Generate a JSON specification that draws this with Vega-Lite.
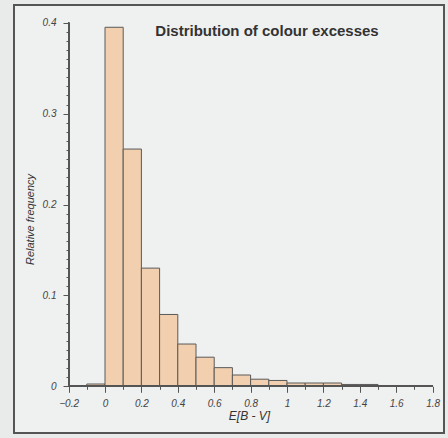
{
  "$schema": "https://vega.github.io/schema/vega-lite/v6.json",
  "width": 430,
  "height": 428,
  "autosize": {"type": "none"},
  "padding": {"left": 14, "top": 5, "right": 4, "bottom": 5},
  "background": "#e9ebeb",
  "config": {
    "view": {"stroke": "#555555", "strokeWidth": 2, "fill": "#eff0f0"},
    "axis": {
      "labelFont": "Liberation Sans",
      "labelFontStyle": "italic",
      "labelFontSize": 10,
      "labelColor": "#444444",
      "tickColor": "#555555",
      "grid": false,
      "domain": false,
      "titleFont": "Liberation Sans",
      "titleFontStyle": "italic",
      "titleFontWeight": "normal",
      "titleFontSize": 11,
      "titleColor": "#333333"
    }
  },
  "title": {
    "text": "Distribution of colour excesses",
    "font": "Liberation Sans",
    "fontSize": 15,
    "fontWeight": "bold",
    "color": "#333333",
    "anchor": "middle",
    "frame": "group",
    "offset": -34,
    "dx": 38
  },
  "data": {
    "values": [
      {"lo": -0.1, "hi": 0.0, "freq": 0.0025},
      {"lo": 0.0, "hi": 0.1, "freq": 0.395},
      {"lo": 0.1, "hi": 0.2, "freq": 0.261},
      {"lo": 0.2, "hi": 0.3, "freq": 0.130},
      {"lo": 0.3, "hi": 0.4, "freq": 0.079},
      {"lo": 0.4, "hi": 0.5, "freq": 0.0465},
      {"lo": 0.5, "hi": 0.6, "freq": 0.032},
      {"lo": 0.6, "hi": 0.7, "freq": 0.0205},
      {"lo": 0.7, "hi": 0.8, "freq": 0.0124},
      {"lo": 0.8, "hi": 0.9, "freq": 0.0078},
      {"lo": 0.9, "hi": 1.0, "freq": 0.0064},
      {"lo": 1.0, "hi": 1.1, "freq": 0.0036},
      {"lo": 1.1, "hi": 1.2, "freq": 0.0036},
      {"lo": 1.2, "hi": 1.3, "freq": 0.0036},
      {"lo": 1.3, "hi": 1.4, "freq": 0.002},
      {"lo": 1.4, "hi": 1.5, "freq": 0.002},
      {"lo": 1.5, "hi": 1.6, "freq": 0.0008},
      {"lo": 1.6, "hi": 1.7, "freq": 0.0006},
      {"lo": 1.7, "hi": 1.8, "freq": 0.0005}
    ]
  },
  "layer": [
    {
      "mark": {"type": "bar", "fill": "#f2cfae", "stroke": "#5a5a5a", "strokeWidth": 1},
      "encoding": {
        "x": {
          "field": "lo", "type": "quantitative",
          "scale": {"domain": [-0.5, 1.8626], "nice": false, "zero": false},
          "axis": {
            "orient": "bottom", "offset": -46.7,
            "values": [-0.2, 0, 0.2, 0.4, 0.6, 0.8, 1, 1.2, 1.4, 1.6, 1.8],
            "format": "~g",
            "labelOverlap": false, "labelFlush": false,
            "tickSize": 6, "labelPadding": 6,
            "title": "E[B - V]", "titleFontSize": 12,
            "titleX": 235, "titleY": 33, "titleAlign": "center", "titleBaseline": "alphabetic"
          }
        },
        "x2": {"field": "hi"},
        "y": {
          "field": "freq", "type": "quantitative",
          "scale": {"domain": [-0.0514, 0.4195], "nice": false, "zero": false},
          "axis": {
            "orient": "left", "offset": -55,
            "values": [0, 0.1, 0.2, 0.3, 0.4],
            "format": "~g",
            "labelOverlap": false, "labelFlush": false,
            "tickSize": 6, "labelPadding": 7,
            "title": "Relative frequency", "titlePadding": 7
          }
        },
        "y2": {"datum": 0}
      }
    },
    {
      "mark": {"type": "rule", "color": "#555555", "strokeWidth": 1.2},
      "encoding": {
        "x": {
          "datum": -0.2, "type": "quantitative",
          "axis": {
            "orient": "bottom", "offset": -46.7,
            "values": [-0.1, 0.1, 0.3, 0.5, 0.7, 0.9, 1.1, 1.3, 1.5, 1.7],
            "tickSize": 3, "labels": false, "title": null
          }
        },
        "x2": {"datum": 1.8},
        "y": {"datum": 0, "type": "quantitative", "axis": null}
      }
    },
    {
      "mark": {"type": "rule", "color": "#555555", "strokeWidth": 1.2},
      "encoding": {
        "x": {"datum": -0.2, "type": "quantitative", "axis": null},
        "y": {
          "datum": 0, "type": "quantitative",
          "axis": {
            "orient": "left", "offset": -55,
            "values": [0.01, 0.02, 0.03, 0.04, 0.05, 0.06, 0.07, 0.08, 0.09, 0.11, 0.12, 0.13, 0.14, 0.15, 0.16, 0.17, 0.18, 0.19, 0.21, 0.22, 0.23, 0.24, 0.25, 0.26, 0.27, 0.28, 0.29, 0.31, 0.32, 0.33, 0.34, 0.35, 0.36, 0.37, 0.38, 0.39],
            "tickSize": 3, "labels": false, "title": null
          }
        },
        "y2": {"datum": 0.4}
      }
    }
  ],
  "resolve": {"axis": {"x": "independent", "y": "independent"}}
}
